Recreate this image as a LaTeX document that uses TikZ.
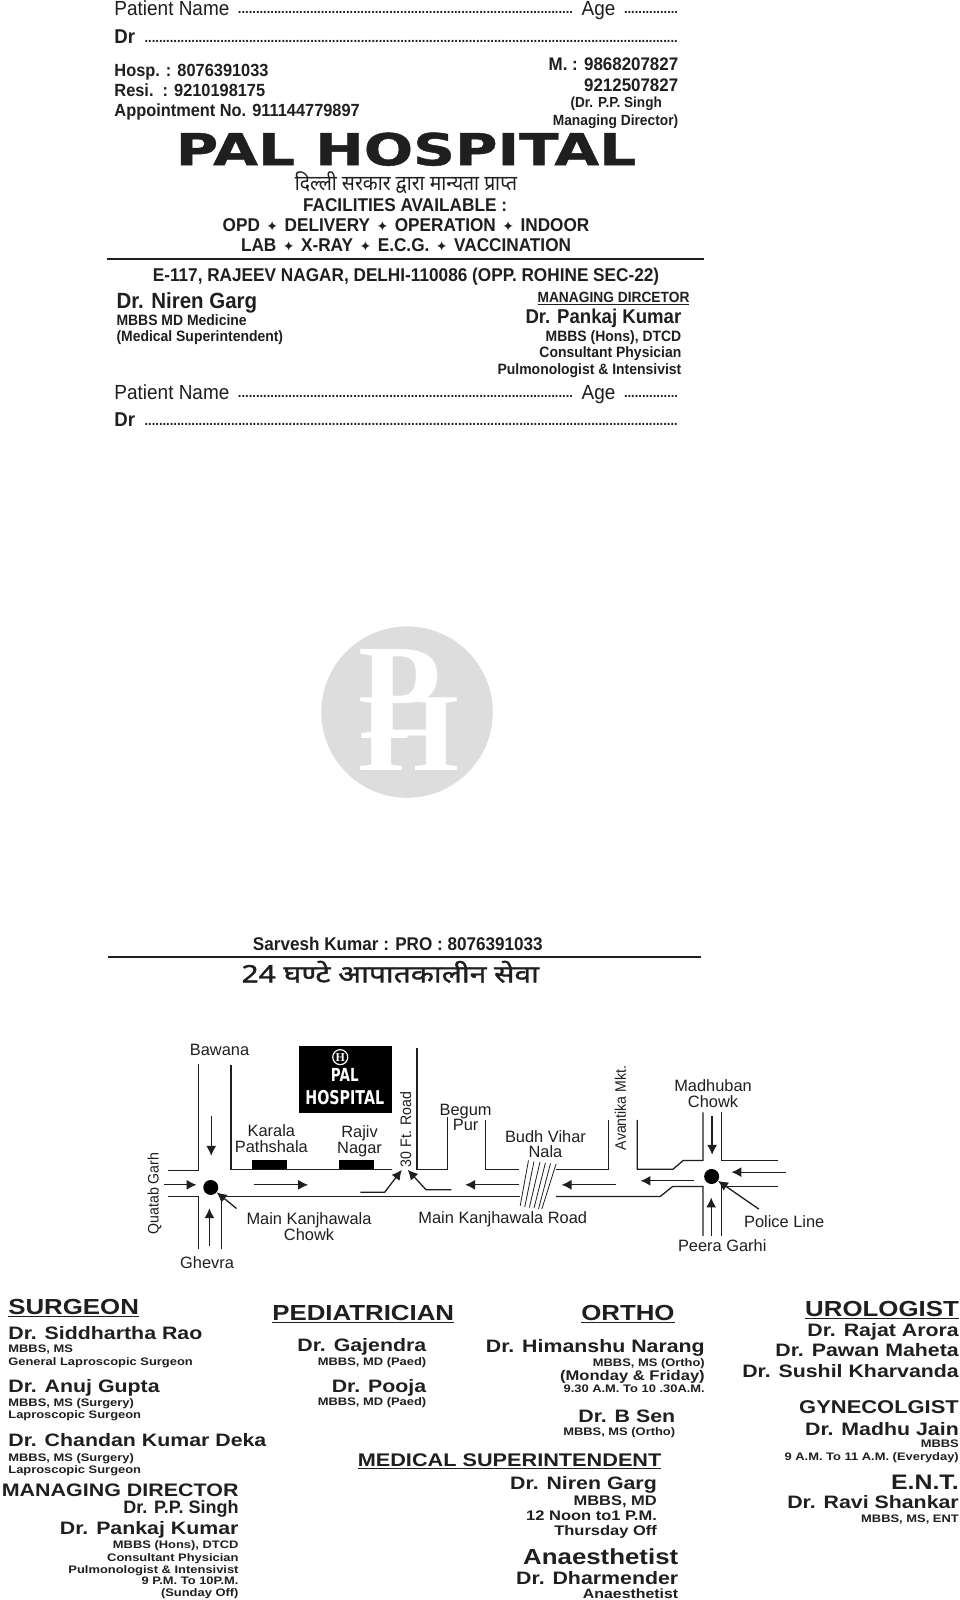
\documentclass[tikz,border=0pt]{standalone}
\usepackage{fontspec}
\usetikzlibrary{arrows.meta}
\setmainfont{Liberation Sans}
\newfontfamily\condfam[FakeStretch=0.93]{Liberation Sans}
\newfontfamily\widefam[FakeStretch=1.185]{Liberation Sans}
\newfontfamily\logofam[FakeStretch=1.32,FakeBold=1]{DejaVu Sans}
\newfontfamily\smlogofam[FakeStretch=0.75]{DejaVu Sans}
\newfontfamily\symfam{DejaVu Sans}
\newfontfamily\hinfam[Script=Devanagari,FakeStretch=0.92]{Noto Sans}
\newfontfamily\hinwide[Script=Devanagari,FakeStretch=1.25,FakeBold=1.6]{Noto Sans}
\newfontfamily\serfam{Liberation Serif}
\newcommand\fs[1]{\fontsize{#1}{#1}\selectfont}
\newcommand\Cb{\condfam\bfseries}
\newcommand\Cn{\condfam}
\newcommand\Eb{\widefam\bfseries}
\newcommand\sep{\hspace{6.5pt}{\symfam\fs{14}✦}\hspace{6.5pt}}
\newcommand\dotrun[1]{\makebox[#1pt]{\cleaders\hbox to 3.6pt{\hss.\hss}\hfill}}
\definecolor{ink}{gray}{0.12}
\definecolor{mark}{gray}{0.865}
\tikzset{
 tl/.style={anchor=mid west,inner sep=0pt,text=ink},
 trt/.style={anchor=mid east,inner sep=0pt,text=ink},
 tc/.style={anchor=mid,inner sep=0pt,text=ink},
 maplabel/.style={anchor=mid,inner sep=0pt,text=ink,font=\fs{16.4},yshift=-3.2pt},
 sidelabel/.style={xshift=3pt,yshift=-2pt,rotate=90,anchor=mid,inner sep=0pt,text=ink,font=\Cn\fs{15.2}},
 road/.style={draw=ink,line width=1.3pt},
 dirarrow/.style={draw=ink,line width=1.3pt,-{Latex[length=10pt,width=10pt]}},
 hatch/.style={draw=ink,line width=.8pt},
 block/.style={fill=black,draw=none},
 rulebar/.style={draw=ink,line width=1.4pt}
}
% \TX{anchor style}{family}{size}{name}{x}{y}{text}: y is the middle of the capitals
\newcommand\TX[7]{\node[#1,font=#2\fs{#3},yshift={-(0.36*#3-2.2)*1pt}] (#4) at (#5,#6) {#7};}
\begin{document}
\begin{tikzpicture}[x=1.0202pt,y=-1.0202pt]
\useasboundingbox[fill=white] (0,0) rectangle (940,1568.3);
% form lines, top
\TX{tl}{\Cn}{20.4}{pn1}{112}{8}{Patient Name}
\TX{tl}{\Cb}{14}{pd1}{232}{8}{\dotrun{337}}
\TX{tl}{\Cn}{20.4}{ag1}{570}{8}{Age}
\TX{tl}{\Cb}{14}{pa1}{610}{8}{\dotrun{57}}
\TX{tl}{\Cb}{20}{dr1}{112}{35}{Dr}
\TX{tl}{\Cb}{14}{dd1}{140}{36}{\dotrun{536}}
% phones
\TX{tl}{\Cb}{17.6}{h1}{112}{68}{Hosp. : 8076391033}
\TX{tl}{\Cb}{17.6}{h2}{112}{88}{Resi.\ \ : 9210198175}
\TX{tl}{\Cb}{17.6}{h3}{112}{108}{Appointment No. 911144779897}
\TX{trt}{\Cb}{18.2}{m1}{665}{62}{M. : 9868207827}
\TX{trt}{\Cb}{18.2}{m2}{665}{83}{9212507827}
\TX{tc}{\Cb}{14.6}{m3}{604}{100}{(Dr. P.P. Singh}
\TX{trt}{\Cb}{14.8}{m4}{665}{117}{Managing Director)}
% title
\TX{tc}{\logofam\bfseries}{44}{title}{398}{146}{PAL HOSPITAL}
\TX{tc}{\hinfam}{21}{gov}{398}{179}{दिल्ली सरकार द्वारा मान्यता प्राप्त}
\TX{tc}{\Cb}{18.5}{fac}{397}{200}{FACILITIES AVAILABLE :}
\TX{tc}{\Cb}{18.5}{fa}{398}{220}{OPD\sep DELIVERY\sep OPERATION\sep INDOOR}
\TX{tc}{\Cb}{18.5}{fb}{398}{240}{LAB\sep X-RAY\sep E.C.G.\sep VACCINATION}
\coordinate (ra) at (105,254); \coordinate (rb) at (690,254);
\draw[rulebar] (ra) -- (rb);
\TX{tc}{\Cb}{18.5}{addr}{398}{269}{E-117, RAJEEV NAGAR, DELHI-110086 (OPP. ROHINE SEC-22)}
\TX{tl}{\Cb}{22}{ng}{114}{294}{Dr. Niren Garg}
\TX{tl}{\Cb}{15}{ng1}{114}{313}{MBBS MD Medicine}
\TX{tl}{\Cb}{15}{ng2}{114}{329}{(Medical Superintendent)}
\TX{trt}{\Cb}{14.8}{md}{676}{291}{\underline{MANAGING DIRCETOR}}
\TX{trt}{\Cb}{20}{pk}{668}{310}{Dr. Pankaj Kumar}
\TX{trt}{\Cb}{15}{pk1}{668}{329}{MBBS (Hons), DTCD}
\TX{trt}{\Cb}{15}{pk2}{668}{345}{Consultant Physician}
\TX{trt}{\Cb}{15}{pk3}{668}{361}{Pulmonologist \& Intensivist}
% form lines, lower
\TX{tl}{\Cn}{20.4}{pn2}{112}{384}{Patient Name}
\TX{tl}{\Cb}{14}{pd2}{232}{384}{\dotrun{337}}
\TX{tl}{\Cn}{20.4}{ag2}{570}{384}{Age}
\TX{tl}{\Cb}{14}{pa2}{610}{384}{\dotrun{57}}
\TX{tl}{\Cb}{20}{dr2}{112}{411}{Dr}
\TX{tl}{\Cb}{14}{dd2}{140}{412}{\dotrun{536}}
% watermark
\node[circle,fill=mark,minimum size=171.4pt,inner sep=0pt] (wm) at (399,698) {};
\node[anchor=base west,inner sep=0pt,text=white,font=\serfam\bfseries\fs{136}] (wmp) at (351,724) {P};
\node[anchor=base west,inner sep=0pt,text=white,font=\serfam\bfseries\fs{111}] (wmh) at (351,755) {\scalebox{1.17}[1]{H}};
% footer of the sheet
\TX{tc}{\Cb}{18.4}{pro}{390}{925}{Sarvesh Kumar : PRO : 8076391033}
\coordinate (rc) at (106,938); \coordinate (rd) at (687,938);
\draw[rulebar] (rc) -- (rd);
\TX{tc}{\hinwide}{24}{emg}{382.5}{954}{24 घण्टे आपातकालीन सेवा}
% map
\begin{scope}[shift={(127.4,901.6)},xscale=.45,yscale=.3267]
 \fill[block] (368,378) rectangle (571,580);
 \fill[block] (265,722) rectangle (342,750);
 \fill[block] (455,722) rectangle (532,750);
 \node[circle,draw=white,line width=1.2pt,text=white,inner sep=0pt,minimum size=15pt,font=\serfam\bfseries\fs{12}] (hc) at (458,412) {H};
 \node[anchor=mid,inner sep=0pt,text=white,font=\smlogofam\bfseries\fs{18},yshift=-3pt] (hp) at (468,468) {PAL};
 \node[anchor=mid,inner sep=0pt,text=white,font=\smlogofam\bfseries\fs{19},yshift=-3pt] (hh) at (468,536) {HOSPITAL};
 % roads
 \draw[road] (150,432) -- (150,752) -- (83,752);
 \draw[road] (220,437) -- (220,750) -- (570,750);
 \draw[road] (83,830) -- (150,830) -- (150,988);
 \draw[road] (200,988) -- (200,830) -- (850,830);
 \draw[road] (928,830) -- (1155,830) -- (1182,800) -- (1248,800) -- (1248,948);
 \draw[road] (1288,948) -- (1288,800) -- (1412,800);
 \draw[road] (1105,600) -- (1105,748) -- (1183,748) -- (1205,722) -- (1248,722) -- (1248,578);
 \draw[road] (1288,578) -- (1288,722) -- (1412,722);
 \draw[road] (625,385) -- (625,748) -- (692,748) -- (692,592);
 \draw[road] (775,600) -- (775,748) -- (848,748);
 \draw[road] (928,748) -- (1042,748) -- (1042,600);
 % nala hatching
 \foreach \a/\b/\c/\d in {868/722/850/858,880/725/860/861,893/727/870/863,905/729/880/865,916/731/890/867,928/733/897/868}
   \draw[hatch] (\a,\b) -- (\c,\d);
 % junctions
 \node[circle,fill=black,minimum size=15pt,inner sep=0pt] (ja) at (176,803) {};
 \node[circle,fill=black,minimum size=15pt,inner sep=0pt] (jb) at (1267,770) {};
 % traffic arrows
 \draw[dirarrow] (177,590) -- (177,708);
 \draw[dirarrow] (75,795) -- (145,795);
 \draw[dirarrow] (173,980) -- (173,865);
 \draw[dirarrow] (270,795) -- (388,795);
 \draw[dirarrow] (502,817) -- (555,817) -- (592,750);
 \draw[dirarrow] (700,810) -- (645,810) -- (605,750);
 \draw[dirarrow] (848,795) -- (730,795);
 \draw[dirarrow] (1058,795) -- (940,795);
 \draw[dirarrow] (1228,783) -- (1112,783);
 \draw[dirarrow] (1268,590) -- (1268,705);
 \draw[dirarrow] (1428,757) -- (1310,757);
 \draw[dirarrow] (1266,948) -- (1266,833);
 \coordinate (pol) at (1370,868);
 \coordinate (mkc) at (232,866);
 \draw[dirarrow] (pol) -- (jb);
 \draw[dirarrow] (mkc) -- (ja);
 % labels
 \node[maplabel] (l1) at (195,388) {Bawana};
 \node[maplabel] (l2) at (308,632) {Karala};
 \node[maplabel] (l3) at (308,680) {Pathshala};
 \node[maplabel] (l4) at (500,635) {Rajiv};
 \node[maplabel] (l5) at (500,683) {Nagar};
 \node[sidelabel] (l6) at (600,623) {30 Ft. Road};
 \node[maplabel] (l7) at (731,568) {Begum};
 \node[maplabel] (l8) at (731,615) {Pur};
 \node[maplabel] (l9) at (905,651) {Budh Vihar};
 \node[maplabel] (l10) at (905,697) {Nala};
 \node[sidelabel] (l11) at (1068,558) {Avantika Mkt.};
 \node[maplabel] (l12) at (1270,497) {Madhuban};
 \node[maplabel] (l13) at (1270,544) {Chowk};
 \node[sidelabel] (l14) at (50,815) {Quatab Garh};
 \node[maplabel] (l15) at (390,898) {Main Kanjhawala};
 \node[maplabel] (l16) at (390,945) {Chowk};
 \node[maplabel] (l17) at (812,893) {Main Kanjhawala Road};
 \node[maplabel] (l18) at (1425,905) {Police Line};
 \node[maplabel] (l19) at (1290,979) {Peera Garhi};
 \node[maplabel] (l20) at (168,1028) {Ghevra};
\end{scope}
% surgeon column
\TX{tl}{\Eb}{21.8}{s0}{8}{1280}{\underline{SURGEON}}
\TX{tl}{\Eb}{18}{s1}{8}{1306}{Dr. Siddhartha Rao}
\TX{tl}{\Eb}{10.9}{s2}{8}{1321}{MBBS, MS}
\TX{tl}{\Eb}{10.9}{s3}{8}{1334}{General Laproscopic Surgeon}
\TX{tl}{\Eb}{18}{s4}{8}{1358}{Dr. Anuj Gupta}
\TX{tl}{\Eb}{10.9}{s5}{8}{1374}{MBBS, MS (Surgery)}
\TX{tl}{\Eb}{10.9}{s6}{8}{1386}{Laproscopic Surgeon}
\TX{tl}{\Eb}{18}{s7}{8}{1411}{Dr. Chandan Kumar Deka}
\TX{tl}{\Eb}{10.9}{s8}{8}{1428}{MBBS, MS (Surgery)}
\TX{tl}{\Eb}{10.9}{s9}{8}{1440}{Laproscopic Surgeon}
\TX{trt}{\Eb}{18.1}{d0}{234}{1460}{MANAGING DIRECTOR}
\TX{trt}{\bfseries}{18}{d1}{234}{1477}{Dr. P.P. Singh}
\TX{trt}{\Eb}{18}{d2}{234}{1497}{Dr. Pankaj Kumar}
\TX{trt}{\Eb}{10.9}{d3}{234}{1514}{MBBS (Hons), DTCD}
\TX{trt}{\Eb}{10.9}{d4}{234}{1526}{Consultant Physician}
\TX{trt}{\Eb}{10.9}{d5}{234}{1538}{Pulmonologist \& Intensivist}
\TX{trt}{\Eb}{10.9}{d6}{234}{1549}{9 P.M. To 10P.M.}
\TX{trt}{\Eb}{10.9}{d7}{234}{1561}{(Sunday Off)}
% pediatrician
\TX{tc}{\Eb}{21.8}{p0}{356}{1286}{\underline{PEDIATRICIAN}}
\TX{trt}{\Eb}{18}{p1}{418}{1318}{Dr. Gajendra}
\TX{trt}{\Eb}{10.9}{p2}{418}{1334}{MBBS, MD (Paed)}
\TX{trt}{\Eb}{18}{p3}{418}{1358}{Dr. Pooja}
\TX{trt}{\Eb}{10.9}{p4}{418}{1373}{MBBS, MD (Paed)}
% ortho
\TX{tc}{\Eb}{21.8}{o0}{615.5}{1286}{\underline{ORTHO}}
\TX{trt}{\Eb}{18}{o1}{691}{1319}{Dr. Himanshu Narang}
\TX{trt}{\Eb}{10.9}{o2}{691}{1335}{MBBS, MS (Ortho)}
\TX{trt}{\Eb}{14}{o3}{691}{1348}{(Monday \& Friday)}
\TX{trt}{\Eb}{10.9}{o4}{691}{1361}{9.30 A.M. To 10 .30A.M.}
\TX{trt}{\Eb}{18}{o5}{662}{1388}{Dr. B Sen}
\TX{trt}{\Eb}{10.9}{o6}{662}{1403}{MBBS, MS (Ortho)}
% superintendent
\TX{tc}{\Eb}{18.3}{u0}{499.5}{1431}{\underline{MEDICAL SUPERINTENDENT}}
\TX{trt}{\Eb}{18}{u1}{644}{1453}{Dr. Niren Garg}
\TX{trt}{\Eb}{13.9}{u2}{644}{1470}{MBBS, MD}
\TX{trt}{\Eb}{13.9}{u3}{644}{1485}{12 Noon to1 P.M.}
\TX{trt}{\Eb}{13.9}{u4}{644}{1500}{Thursday Off}
\TX{trt}{\Eb}{21.8}{a0}{665}{1525}{Anaesthetist}
\TX{trt}{\Eb}{18}{a1}{665}{1546}{Dr. Dharmender}
\TX{trt}{\Eb}{13.4}{a2}{665}{1562}{Anaesthetist}
% right column
\TX{trt}{\Eb}{21.8}{r0}{940}{1282}{\underline{UROLOGIST}}
\TX{trt}{\Eb}{18}{r1}{940}{1303}{Dr. Rajat Arora}
\TX{trt}{\Eb}{18}{r2}{940}{1323}{Dr. Pawan Maheta}
\TX{trt}{\Eb}{18}{r3}{940}{1343}{Dr. Sushil Kharvanda}
\TX{trt}{\Eb}{18.5}{g0}{940}{1379}{GYNECOLGIST}
\TX{trt}{\Eb}{18}{g1}{940}{1400}{Dr. Madhu Jain}
\TX{trt}{\Eb}{10.9}{g2}{940}{1415}{MBBS}
\TX{trt}{\Eb}{10.9}{g3}{940}{1427}{9 A.M. To 11 A.M. (Everyday)}
\TX{trt}{\Eb}{21}{e0}{940}{1452}{E.N.T.}
\TX{trt}{\Eb}{18}{e1}{940}{1472}{Dr. Ravi Shankar}
\TX{trt}{\Eb}{10.9}{e2}{940}{1488}{MBBS, MS, ENT}
\end{tikzpicture}
\end{document}
